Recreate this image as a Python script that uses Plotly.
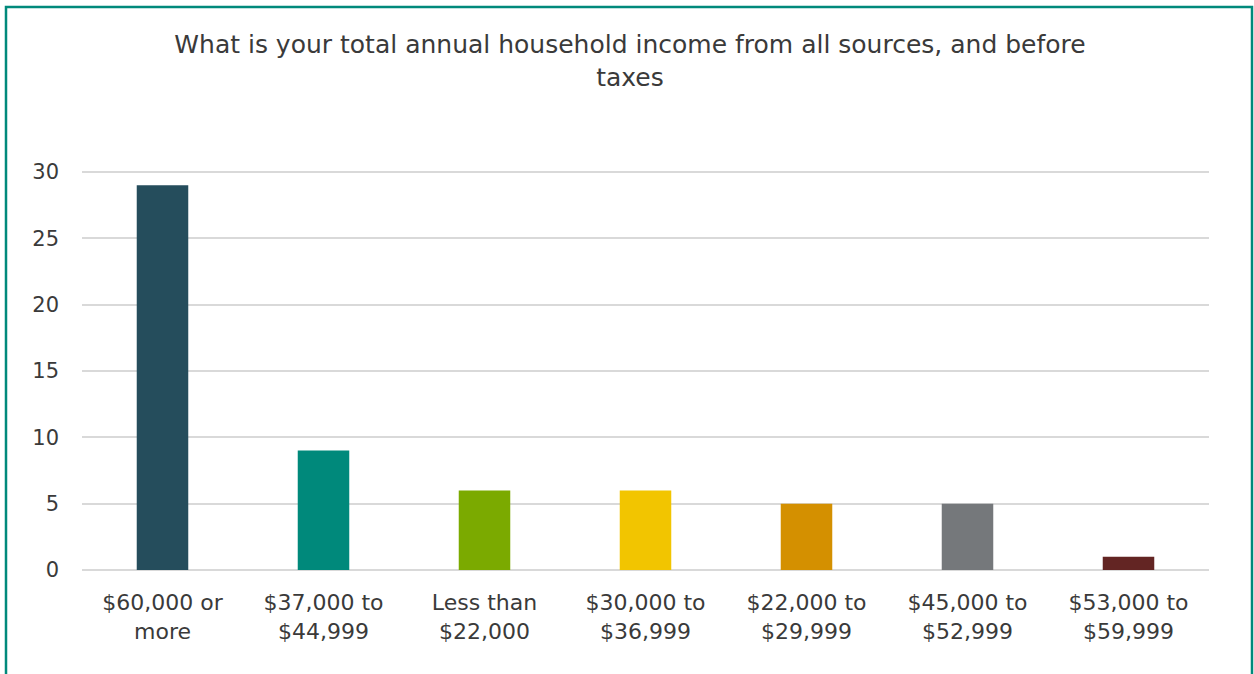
import plotly.graph_objects as go

categories = ["$60,000 or<br>more", "$37,000 to<br>$44,999", "Less than<br>$22,000",
              "$30,000 to<br>$36,999", "$22,000 to<br>$29,999", "$45,000 to<br>$52,999",
              "$53,000 to<br>$59,999"]
counts = [29, 9, 6, 6, 5, 5, 1]
bar_colors = ["#254D5C", "#00897B", "#7BAA00", "#F2C500", "#D49000", "#75787B", "#632523"]
y_ticks = [0, 5, 10, 15, 20, 25, 30]

W, H = 1254, 674
ml, mr, mt, mb = 82, 45, 171, 104
pw, ph = W - ml - mr, H - mt - mb

def px(x):
    return (x - ml) / pw

def py(y):
    return 1 - (y - mt) / ph

font_family = "DejaVu Sans"
text_color = "#3a3a3a"

fig = go.Figure(go.Bar(
    x=categories, y=counts, marker=dict(color=bar_colors, line=dict(width=0)),
    width=0.32, hoverinfo="x+y",
))

fig.update_layout(
    width=W, height=H,
    margin=dict(l=ml, r=mr, t=mt, b=mb),
    paper_bgcolor="white", plot_bgcolor="white",
    font=dict(family=font_family, size=21, color=text_color),
    showlegend=False,
    title=dict(
        text="What is your total annual household income from all sources, and before<br>taxes",
        x=630 / W, xref="container", xanchor="center",
        y=1 - 53 / H, yref="container", yanchor="top",
        font=dict(family=font_family, size=25, color=text_color),
    ),
    xaxis=dict(
        showgrid=False, showline=False, ticks="",
        tickfont=dict(size=22, color=text_color),
        ticklabelstandoff=17,
    ),
    yaxis=dict(
        range=[0, 30.08], tickvals=y_ticks, showline=False, ticks="",
        gridcolor="#D9D9D9", gridwidth=2, zeroline=True, zerolinecolor="#D9D9D9", zerolinewidth=2,
        tickfont=dict(size=21, color=text_color),
        ticklabelstandoff=22,
    ),
    shapes=[dict(
        type="rect", xref="paper", yref="paper",
        x0=px(6), x1=px(1252), y0=py(H + 10), y1=py(7),
        line=dict(color="#00897B", width=2.5), fillcolor="rgba(0,0,0,0)", layer="above",
    )],
)

fig.write_html("out.html")
